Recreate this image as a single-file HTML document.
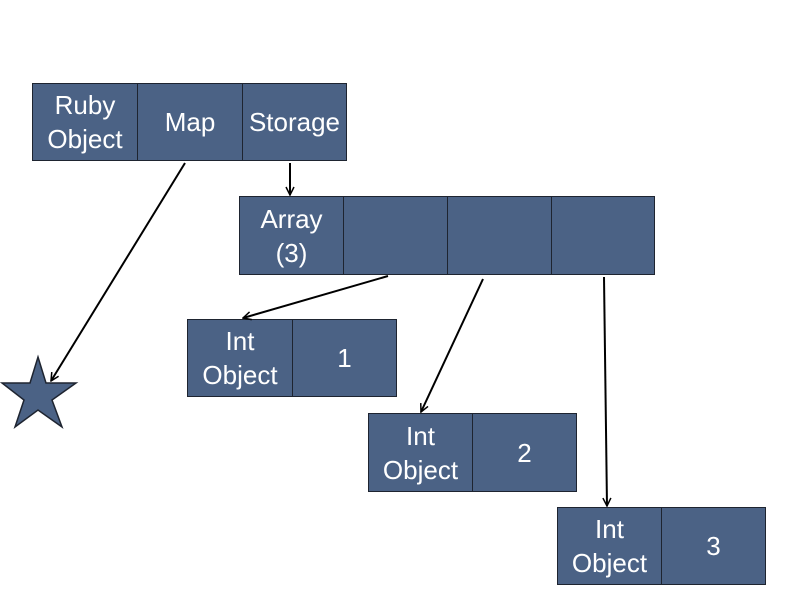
<!DOCTYPE html>
<html><head><style>
body{margin:0;width:800px;height:600px;background:#fff;position:relative;overflow:hidden;font-family:"Liberation Sans",sans-serif}
.b{position:absolute;background:#4b6285;border:1.5px solid #1e2430;box-sizing:border-box;color:#fff;font-size:26px;line-height:34px;display:flex;align-items:center;justify-content:center;text-align:center}
</style></head><body>
<div class="b" style="left:32px;top:83px;width:106px;height:78px">Ruby<br>Object</div>
<div class="b" style="left:137px;top:83px;width:106px;height:78px">Map</div>
<div class="b" style="left:242px;top:83px;width:105px;height:78px">Storage</div>
<div class="b" style="left:239px;top:196px;width:105px;height:79px">Array<br>(3)</div>
<div class="b" style="left:343px;top:196px;width:105px;height:79px"></div>
<div class="b" style="left:447px;top:196px;width:105px;height:79px"></div>
<div class="b" style="left:551px;top:196px;width:104px;height:79px"></div>
<div class="b" style="left:187px;top:319px;width:106px;height:78px">Int<br>Object</div>
<div class="b" style="left:292px;top:319px;width:105px;height:78px">1</div>
<div class="b" style="left:368px;top:413px;width:105px;height:79px">Int<br>Object</div>
<div class="b" style="left:472px;top:413px;width:105px;height:79px">2</div>
<div class="b" style="left:557px;top:507px;width:105px;height:78px">Int<br>Object</div>
<div class="b" style="left:661px;top:507px;width:105px;height:78px">3</div>
<svg width="800" height="600" style="position:absolute;left:0;top:0">
<defs><marker id="a" markerWidth="10" markerHeight="10" refX="9" refY="5" orient="auto" markerUnits="userSpaceOnUse"><path d="M1,1 L9,5 L1,9" fill="none" stroke="#000" stroke-width="1.5"/></marker></defs>
<polygon points="38,357 46,383 76,383 52,400 62,427 38,410 15,427 24,400 2,383 30,383" fill="#4b6285" stroke="#1e2430" stroke-width="1.5"/>
<g stroke="#000" stroke-width="2" marker-end="url(#a)">
<line x1="185" y1="163" x2="51" y2="381"/>
<line x1="290" y1="163" x2="290" y2="195"/>
<line x1="388" y1="276" x2="243" y2="318"/>
<line x1="483" y1="279" x2="421" y2="412"/>
<line x1="604" y1="277" x2="607" y2="506"/>
</g>
</svg>
</body></html>
